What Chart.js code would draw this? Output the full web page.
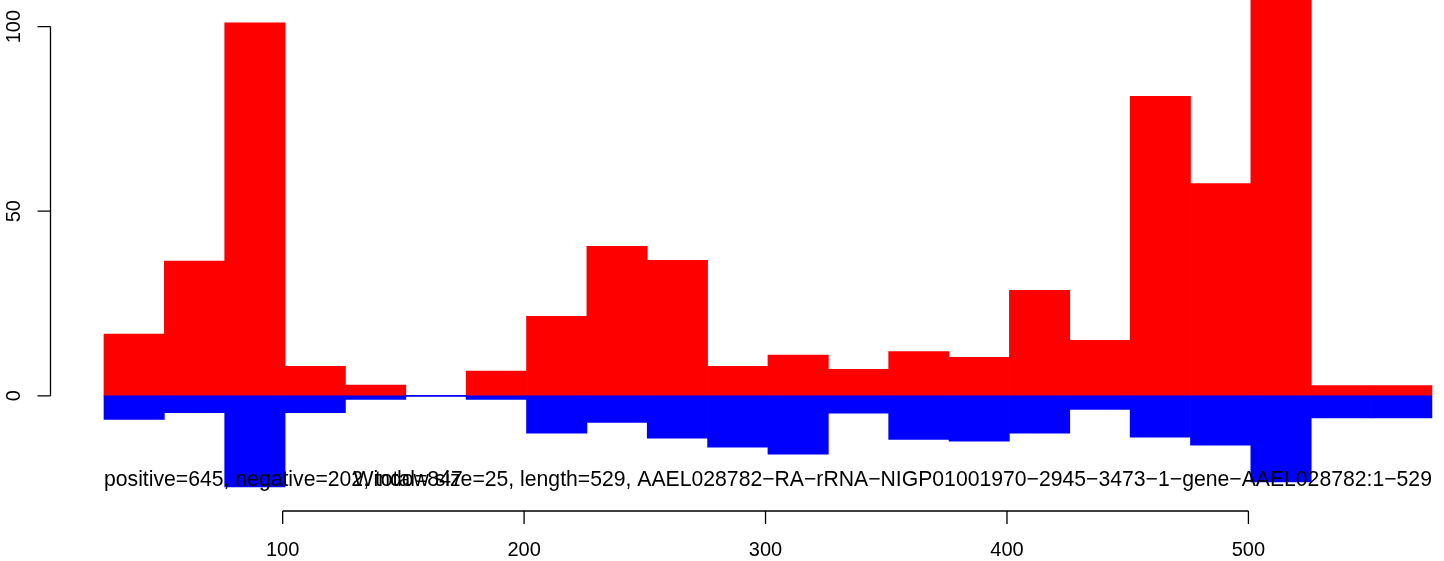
<!DOCTYPE html>
<html>
<head>
<meta charset="utf-8">
<script src="https://cdn.jsdelivr.net/npm/chart.js@4/dist/chart.umd.min.js"></script>
<style>
  html, body { margin: 0; padding: 0; background: #ffffff; }
  #wrap { width: 1444px; height: 561px; }
</style>
</head>
<body>
<div id="wrap"><canvas id="c" width="1444" height="561"></canvas></div>
<script>
// ---- data ----
const windowSize = 25;
const windowStarts = [26, 51, 76, 101, 126, 151, 176, 201, 226, 251, 276, 301, 326, 351, 376, 401, 426, 451, 476, 501, 526, 551];
const positiveValues = [16.7, 36.5, 101, 8, 2.9, 0, 6.7, 21.5, 40.5, 36.7, 8, 11, 7.2, 12, 10.4, 28.6, 15, 81.1, 57.5, 138, 2.8, 2.8];
const negativeValues = [-6.4, -4.6, -24.7, -4.6, -1, 0, -1, -10.1, -7.2, -11.5, -13.9, -15.8, -4.7, -11.8, -12.3, -10.1, -3.7, -11.2, -13.4, -23.3, -6, -6];
const xTickValues = [100, 200, 300, 400, 500];
const yTickValues = [0, 50, 100];
const summaryText = "positive=645, negative=202, total=847";
const titleText = "Window size=25, length=529, AAEL028782\u2212RA\u2212rRNA\u2212NIGP01001970\u22122945\u22123473\u22121\u2212gene\u2212AAEL028782:1\u2212529";
const xRange = [3.64, 581.0];
const yRange = [-31.2, 107.2];

const FONT = '20px "Liberation Sans", Arial, Helvetica, sans-serif';
const TEXT_FONT = '21.2px "Liberation Sans", Arial, Helvetica, sans-serif';

const toPoints = (vals) => vals.map((v, i) => ({ x: windowStarts[i] + windowSize / 2, y: v }));

const rAxesPlugin = {
  id: 'rAxes',
  afterDraw(chart) {
    const ctx = chart.ctx;
    const xs = chart.scales.x, ys = chart.scales.y;
    const area = chart.chartArea;
    const tick = 13;
    ctx.save();
    ctx.strokeStyle = '#000000';
    ctx.fillStyle = '#000000';
    ctx.lineWidth = 1.3;
    ctx.font = FONT;

    // x axis (bottom, spans first to last tick)
    const axY = area.bottom;
    const x0 = xs.getPixelForValue(xTickValues[0]);
    const x1 = xs.getPixelForValue(xTickValues[xTickValues.length - 1]);
    ctx.beginPath();
    ctx.moveTo(x0, axY); ctx.lineTo(x1, axY);
    xTickValues.forEach(v => {
      const px = xs.getPixelForValue(v);
      ctx.moveTo(px, axY); ctx.lineTo(px, axY + tick);
    });
    ctx.stroke();
    ctx.textAlign = 'center';
    ctx.textBaseline = 'alphabetic';
    xTickValues.forEach(v => {
      ctx.fillText(String(v), xs.getPixelForValue(v), axY + 45);
    });

    // y axis (left)
    const axX = area.left + 0.5;
    const y0 = ys.getPixelForValue(yTickValues[0]);
    const y1 = ys.getPixelForValue(yTickValues[yTickValues.length - 1]);
    ctx.beginPath();
    ctx.moveTo(axX, y0); ctx.lineTo(axX, y1);
    yTickValues.forEach(v => {
      const py = ys.getPixelForValue(v);
      ctx.moveTo(axX, py); ctx.lineTo(axX - tick, py);
    });
    ctx.stroke();
    yTickValues.forEach(v => {
      const py = ys.getPixelForValue(v);
      ctx.save();
      ctx.translate(axX - 30.5, py);
      ctx.rotate(-Math.PI / 2);
      ctx.textAlign = 'center';
      ctx.textBaseline = 'alphabetic';
      ctx.fillText(String(v), 0, 0);
      ctx.restore();
    });

    // annotation texts (drawn over bars)
    ctx.font = TEXT_FONT;
    const textY = ys.getPixelForValue(yRange[0]) - 25;
    ctx.textBaseline = 'alphabetic';
    ctx.textAlign = 'left';
    ctx.fillText(summaryText, xs.getPixelForValue(windowStarts[0]), textY);
    ctx.textAlign = 'right';
    ctx.fillText(titleText, xs.getPixelForValue(windowStarts[windowStarts.length - 1] + windowSize), textY);
    ctx.restore();
  }
};

new Chart(document.getElementById('c'), {
  type: 'bar',
  data: {
    datasets: [
      {
        label: 'negative',
        data: toPoints(negativeValues),
        backgroundColor: '#0000FF',
        borderWidth: 0,
        minBarLength: 1,
        order: 0
      },
      {
        label: 'positive',
        data: toPoints(positiveValues),
        backgroundColor: '#FF0000',
        borderWidth: 0,
        order: 1
      }
    ]
  },
  options: {
    responsive: false,
    devicePixelRatio: 1,
    animation: false,
    events: [],
    layout: { padding: { left: 50, right: 0, top: 0, bottom: 50 } },
    datasets: {
      bar: { grouped: false, barPercentage: 1.0, categoryPercentage: 1.0 }
    },
    plugins: {
      legend: { display: false },
      tooltip: { enabled: false },
      title: { display: false }
    },
    scales: {
      x: { type: 'linear', display: false, offset: false, min: xRange[0], max: xRange[1], grid: { display: false } },
      y: { type: 'linear', display: false, min: yRange[0], max: yRange[1], grid: { display: false } }
    }
  },
  plugins: [rAxesPlugin]
});
</script>
</body>
</html>
